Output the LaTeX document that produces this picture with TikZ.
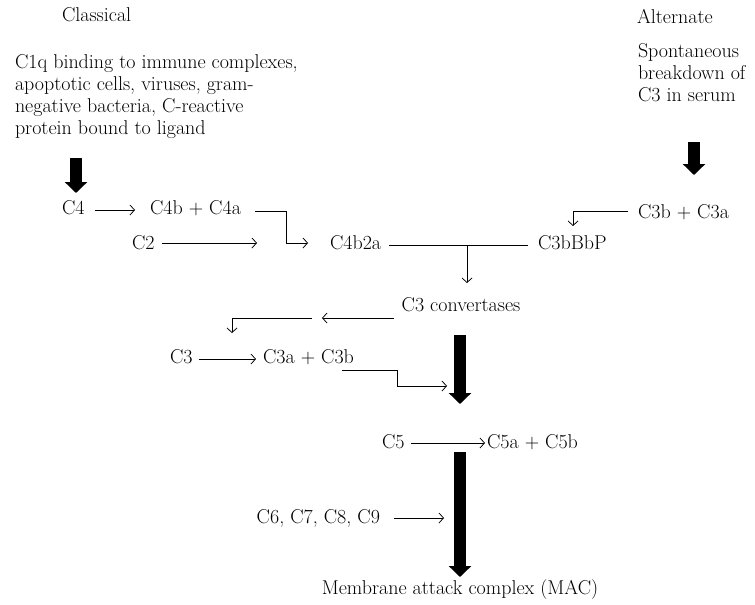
\documentclass[tikz,border=0pt]{standalone}
\usetikzlibrary{arrows.meta}
\begin{document}
\begin{tikzpicture}[x=1pt,y=-1pt,
  every node/.style={inner sep=0pt,outer sep=0pt,font=\fontsize{20}{22}\selectfont},
  lbl/.style={anchor=west},
  arr/.style={-{Straight Barb[length=4.5pt,width=10pt]},line width=0.75pt},
  ln/.style={line width=0.75pt},
  fat/.style={-{Triangle[length=11pt,width=22pt]},line width=11.5pt}]
\useasboundingbox (0,0) rectangle (755,605);
% headings and sources
\node[lbl] (classical) at (62,15) {Classical};
\node[lbl] (alternate) at (637,17) {Alternate};
\node[anchor=north west,align=left] (para) at (15,55) {C1q binding to immune complexes,\\apoptotic cells, viruses, gram-\\negative bacteria, C-reactive\\protein bound to ligand};
\node[anchor=north west,align=left] (spont) at (638,44) {Spontaneous\\breakdown of\\C3 in serum};
% species
\node[lbl] (c4) at (62,208) {C4};
\node[lbl] (c4b) at (150,208) {C4b + C4a};
\node[lbl] (c2) at (132,243) {C2};
\node[lbl] (c4b2a) at (330,243) {C4b2a};
\node[lbl] (c3bbbp) at (538,243) {C3bBbP};
\node[lbl] (c3b) at (638,212) {C3b + C3a};
\node (conv) at (461,305) {C3 convertases};
\node[lbl] (c3) at (170,357) {C3};
\node[lbl] (c3a) at (263,357) {C3a + C3b};
\node[lbl] (c5) at (382,442) {C5};
\node[lbl] (c5a) at (487,442) {C5a + C5b};
\node[anchor=east] (c6) at (380,518) {C6, C7, C8, C9};
\node (mac) at (460,590) {Membrane attack complex (MAC)};
% free ends
\coordinate (tj) at (467,245);
\coordinate (c2end) at (257,243);
\coordinate (cvl) at (312,318);
\coordinate (c3drop) at (232,333);
\coordinate (bend3) at (397,386);
\coordinate (b1top) at (460,335);
\coordinate (b1tip) at (460,404);
\coordinate (b1in) at (447,386);
\coordinate (b2top) at (460,452);
\coordinate (b2tip) at (460,577);
\coordinate (c6end) at (444,518);
\coordinate (latop) at (76,158);
\coordinate (ratop) at (694,142);
% thick arrows
\draw[fat] (latop) -- (latop |- 0,193);
\draw[fat] (ratop) -- (ratop |- 0,175);
\draw[fat] (b1top) -- (b1tip);
\draw[fat] (b2top) -- (b2tip);
% thin connectors
\draw[arr] ([xshift=10pt,yshift=-2pt]c4.east) -- ([xshift=-15pt,yshift=-2pt]c4b.west);
\draw[arr] ([xshift=14pt,yshift=-3pt]c4b.east) -| (286,243) -- ([xshift=-22pt]c4b2a.west);
\draw[arr] ([xshift=7pt]c2.east) -- (c2end);
\draw[ln] ([xshift=8pt,yshift=-2pt]c4b2a.east) -- ([xshift=-10pt,yshift=-2pt]c3bbbp.west);
\draw[arr] (tj) -- (467,283);
\draw[arr] ([xshift=-10pt,yshift=1pt]c3b.west) -| (573,226);
\draw[arr] ([xshift=-8pt,yshift=-13pt]conv.west) -- (322,318);
\draw[arr] (cvl) -| (c3drop);
\draw[arr] ([xshift=6pt,yshift=-2pt]c3.east) -- ([xshift=-7pt,yshift=-2pt]c3a.west);
\draw[arr] ([xshift=-12pt,yshift=-13pt]c3a.east) -| (bend3) -- (b1in);
\draw[arr] ([xshift=6pt,yshift=-1pt]c5.east) -- ([xshift=-2pt,yshift=-1pt]c5a.west);
\draw[arr] ([xshift=14pt]c6.east) -- (c6end);
\end{tikzpicture}
\end{document}
